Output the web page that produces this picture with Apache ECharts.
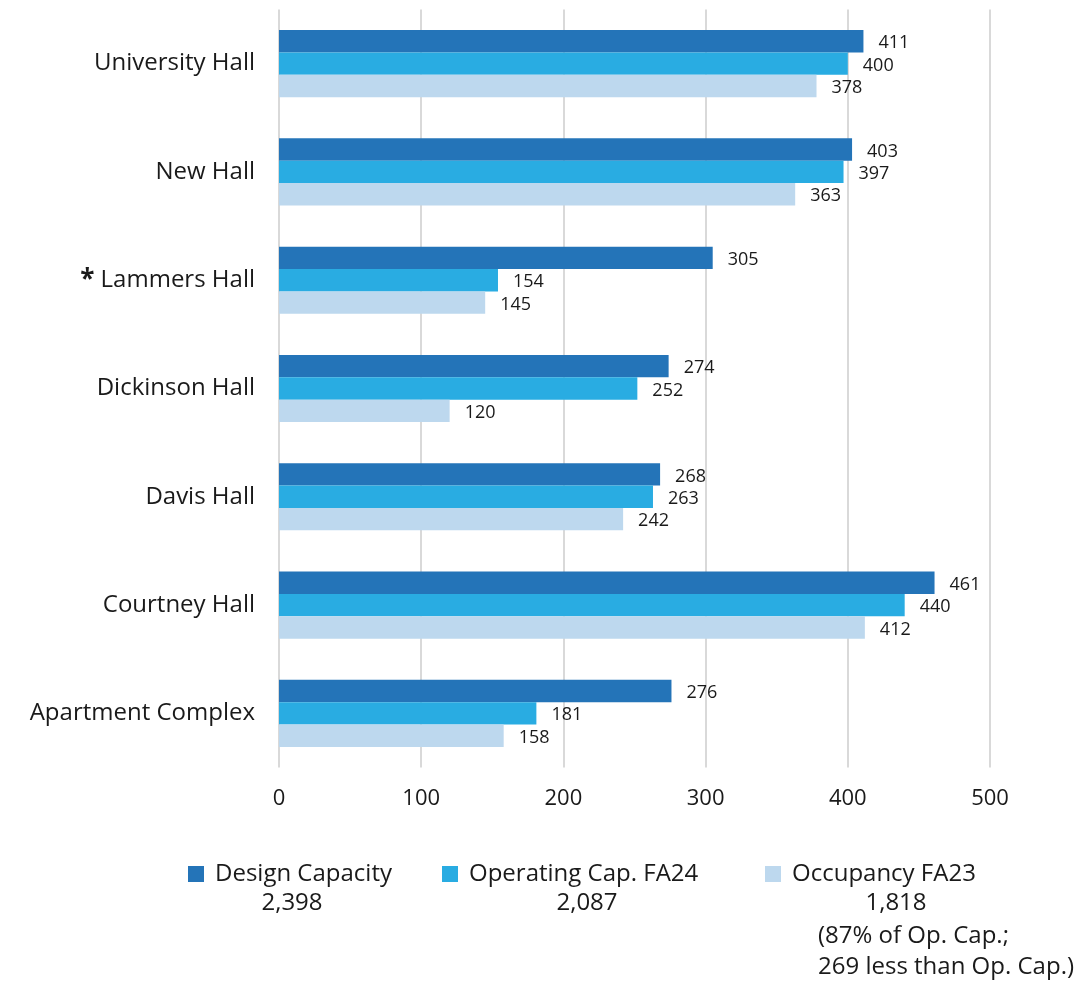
<!DOCTYPE html>
<html>
<head>
<meta charset="utf-8">
<script src="https://cdn.jsdelivr.net/npm/echarts@6/dist/echarts.min.js"></script>
<style>
html,body{margin:0;padding:0;background:#fff;}
#chart{width:1079px;height:985px;}
</style>
</head>
<body>
<div id="chart"></div>
<script>
const categories = ['University Hall', 'New Hall', '* Lammers Hall', 'Dickinson Hall', 'Davis Hall', 'Courtney Hall', 'Apartment Complex'];
const seriesNames = ['Design Capacity', 'Operating Cap. FA24', 'Occupancy FA23'];
const designCapacity = [411, 403, 305, 274, 268, 461, 276];
const operatingCap = [400, 397, 154, 252, 263, 440, 181];
const occupancy = [378, 363, 145, 120, 242, 412, 158];
const legendTotals = ['2,398', '2,087', '1,818'];
const occupancyNotes = ['(87% of Op. Cap.;', '269 less than Op. Cap.)'];
const xTicks = [0, 100, 200, 300, 400, 500];

const colors = ['#2474b8', '#29ace2', '#bdd8ee'];
const FONT = '"Open Sans", sans-serif';
const seriesData = [designCapacity, operatingCap, occupancy];

const chart = echarts.init(document.getElementById('chart'), null, {renderer: 'canvas'});

const legendLefts = [188, 442, 765];
const totalCenters = [292, 587, 896];

const option = {
  animation: false,
  backgroundColor: '#ffffff',
  textStyle: {fontFamily: FONT},
  grid: {left: 279, right: 89, top: 9.5, height: 758, containLabel: false},
  xAxis: {
    type: 'value',
    min: xTicks[0],
    max: xTicks[xTicks.length - 1],
    interval: 100,
    axisLine: {show: false},
    axisTick: {show: false},
    splitLine: {show: true, lineStyle: {color: '#d9d9d9', width: 2}},
    axisLabel: {margin: 20, fontSize: 22, color: '#1a1a1a', fontFamily: FONT}
  },
  yAxis: {
    type: 'category',
    data: categories,
    inverse: true,
    axisLine: {show: false},
    axisTick: {show: false},
    axisLabel: {
      margin: 24,
      fontSize: 24,
      color: '#1a1a1a',
      fontFamily: FONT,
      formatter: function (v) {
        if (v.indexOf('* ') === 0) return '{s|*} ' + v.slice(2);
        return v;
      },
      rich: {s: {fontSize: 26, fontWeight: 'bold', color: '#1a1a1a', fontFamily: FONT}}
    }
  },
  legend: seriesNames.map((n, i) => ({
    data: [n],
    left: legendLefts[i],
    top: 862,
    padding: 0,
    itemWidth: 16,
    itemHeight: 16,
    itemGap: 10,
    icon: 'rect',
    selectedMode: false,
    textStyle: {fontSize: 24, color: '#1a1a1a', fontFamily: FONT, padding: [0, 0, 0, 6]}
  })),
  graphic: legendTotals.map((t, i) => ({
    type: 'text',
    x: totalCenters[i],
    y: 891,
    style: {text: t, fill: '#1a1a1a', font: '24px ' + FONT, textAlign: 'center', textVerticalAlign: 'top'}
  })).concat(occupancyNotes.map((t, i) => ({
    type: 'text',
    x: 818,
    y: 924 + i * 31,
    style: {text: t, fill: '#1a1a1a', font: '24px ' + FONT, textAlign: 'left', textVerticalAlign: 'top'}
  }))),
  series: seriesNames.map((n, i) => ({
    name: n,
    type: 'bar',
    data: seriesData[i],
    barGap: '0%',
    barCategoryGap: '38%',
    itemStyle: {color: colors[i]},
    label: {
      show: true,
      position: 'right',
      distance: 15,
      offset: [0, 2],
      fontSize: 18,
      color: '#1a1a1a',
      fontFamily: FONT
    }
  }))
};
chart.setOption(option);
</script>
</body>
</html>
